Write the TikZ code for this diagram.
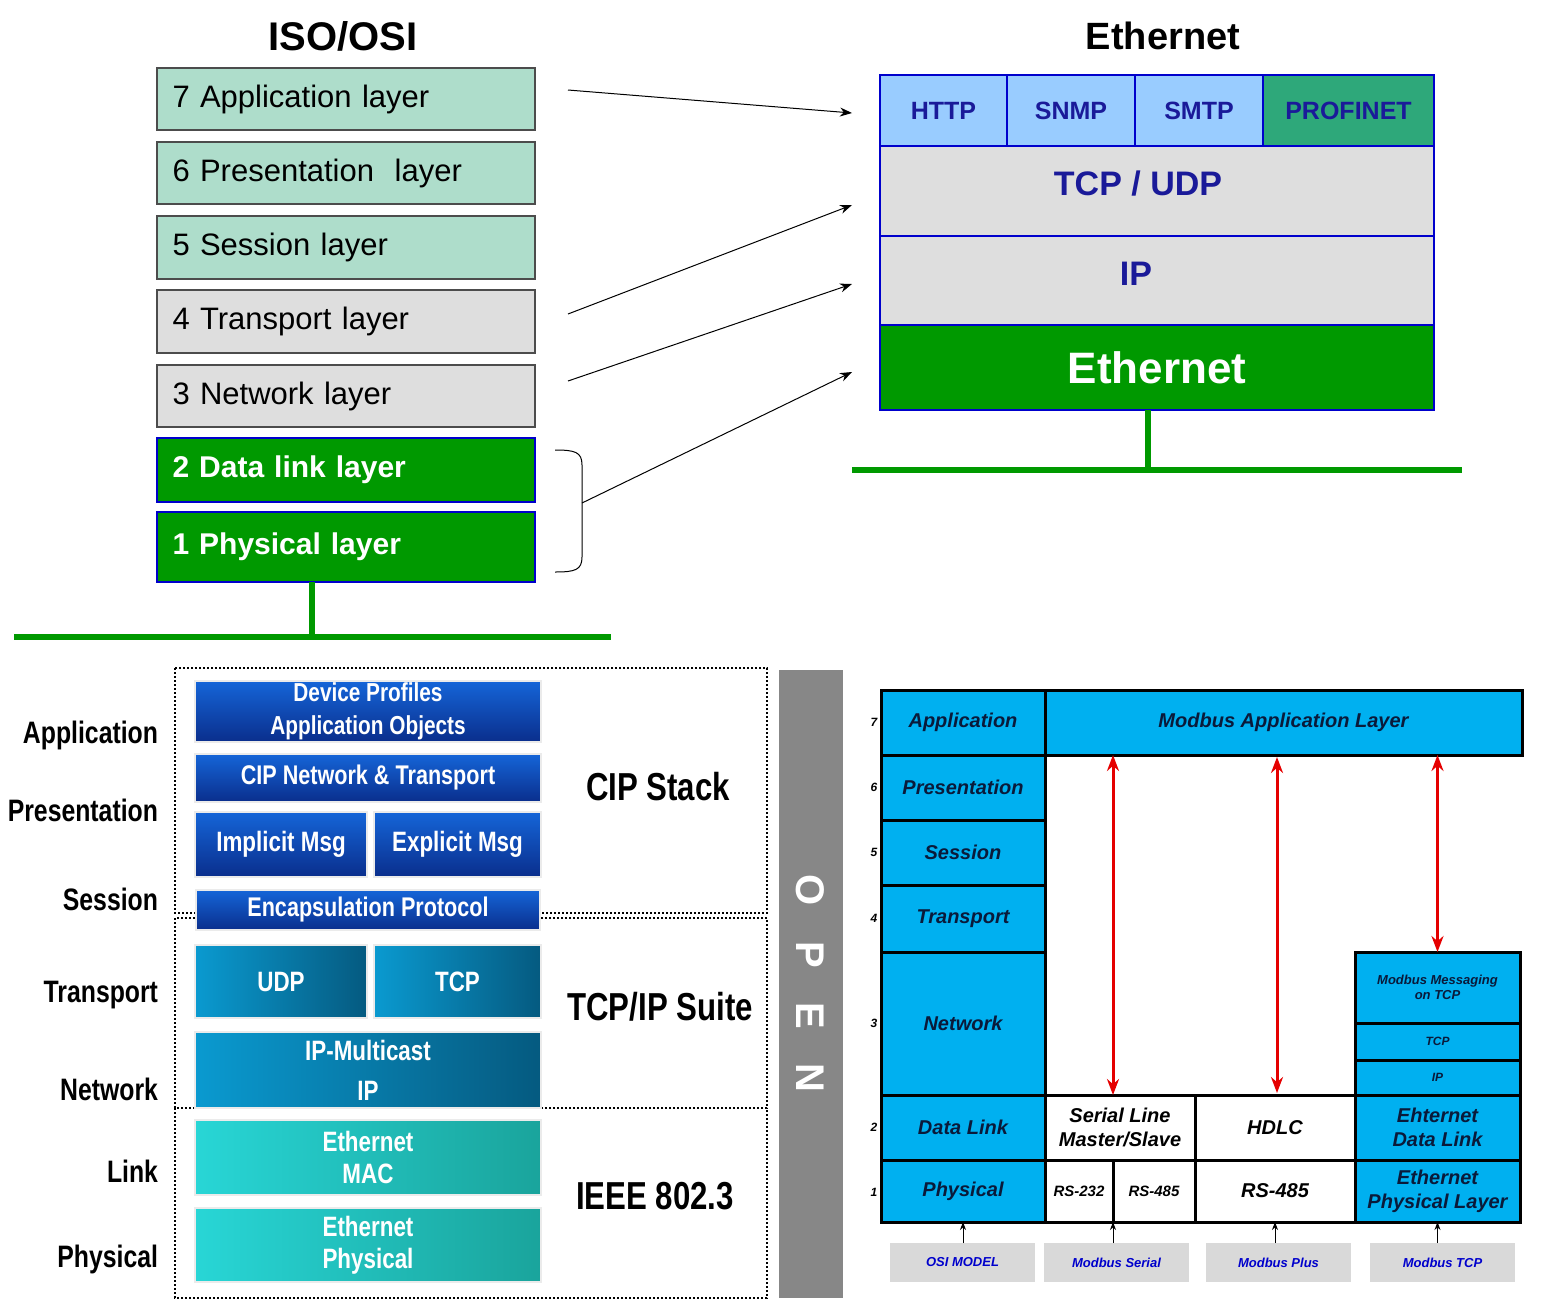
\documentclass[tikz,border=0pt]{standalone}
\usepackage{fontspec}
\setmainfont{Liberation Sans}
\newfontfamily\nar{Liberation Sans}[FakeStretch=0.8]
\usetikzlibrary{arrows.meta}
\definecolor{ositeal}{HTML}{AEDDCB}
\definecolor{osigray}{HTML}{DEDEDE}
\definecolor{egreen}{HTML}{009900}
\definecolor{eblue}{HTML}{99CCFF}
\definecolor{pgreen}{HTML}{2EA87A}
\definecolor{navy}{HTML}{1A1A99}
\definecolor{mbblue}{HTML}{00B0F0}
\definecolor{mbtext}{HTML}{0A1A3A}
\definecolor{ciptop}{HTML}{1565D8}
\definecolor{cipbot}{HTML}{0A2E8C}
\definecolor{cyl}{HTML}{0A9AD0}
\definecolor{cyr}{HTML}{055A80}
\definecolor{tel}{HTML}{28D6D6}
\definecolor{ter}{HTML}{1AA49C}
\newcommand\bx[7]{\node[#6, minimum width={(#4-#2)*0.5pt}, minimum height={(#5-#3)*0.5pt}] (#1) at ({(#2+#4)/2},{(#3+#5)/2}) {#7};}
\begin{document}
\begin{tikzpicture}[x=0.5pt,y=-0.5pt,
  every node/.style={inner sep=0pt, outer sep=0pt, align=center},
  osi/.style={draw=black!70, line width=0.6pt, font=\fontsize{15.5}{17}\selectfont},
  osig/.style={draw=blue!80!black, fill=egreen, line width=0.8pt, text=white, font=\fontsize{15}{17}\selectfont\bfseries},
  eth/.style={draw=blue!80!black, line width=0.8pt, text=navy, font=\bfseries},
  cipb/.style={top color=ciptop, bottom color=cipbot, text=white, font=\nar\bfseries\fontsize{14}{16}\selectfont, draw=black!8, line width=1pt},
  cipc/.style={left color=cyl, right color=cyr, text=white, font=\nar\bfseries\fontsize{14}{16}\selectfont, draw=black!8, line width=1pt},
  cipt/.style={left color=tel, right color=ter, text=white, font=\nar\bfseries\fontsize{14}{16}\selectfont, draw=black!8, line width=1pt},
  lay/.style={anchor=east, font=\nar\bfseries\fontsize{15.5}{17}\selectfont},
  big/.style={font=\nar\bfseries\fontsize{19.5}{21}\selectfont},
  mb/.style={draw=black, line width=1.5pt, fill=mbblue, text=mbtext, font=\bfseries\itshape\fontsize{10}{12}\selectfont},
  mbw/.style={draw=black, line width=1.5pt, fill=white, text=black, font=\bfseries\itshape\fontsize{10}{12}\selectfont},
  mbl/.style={fill=black!15, text=blue!80!black, font=\bfseries\itshape\fontsize{6.5}{8}\selectfont},
  gline/.style={draw=egreen, line width=3pt},
  arr/.style={-{Stealth[length=6pt]}, line width=0.5pt},
  red/.style={draw=red!90!black, line width=1.5pt, {Stealth[length=8pt,width=6pt]}-{Stealth[length=8pt,width=6pt]}},
]
\useasboundingbox (0,0) rectangle (1544,1308);

% ISO/OSI
\node[font=\fontsize{20}{22}\selectfont\bfseries] (tosi) at (343,36) {ISO/OSI};
\bx{o7}{157}{68}{535}{130}{osi,fill=ositeal,text width={(520-173)*0.5pt},align=left}{7 Application layer}
\bx{o6}{157}{142}{535}{204}{osi,fill=ositeal,text width={(520-173)*0.5pt},align=left}{6 Presentation~ layer}
\bx{o5}{157}{216}{535}{279}{osi,fill=ositeal,text width={(520-173)*0.5pt},align=left}{5 Session layer}
\bx{o4}{157}{290}{535}{353}{osi,fill=osigray,text width={(520-173)*0.5pt},align=left}{4 Transport layer}
\bx{o3}{157}{365}{535}{427}{osi,fill=osigray,text width={(520-173)*0.5pt},align=left}{3 Network layer}
\bx{o2}{157}{438}{535}{502}{osig,text width={(520-173)*0.5pt},align=left}{2 Data link layer}
\bx{o1}{157}{512}{535}{582}{osig,text width={(520-173)*0.5pt},align=left}{1 Physical layer}
\coordinate (gv1) at (312,582);
\coordinate (gv2) at (312,637);
\draw[gline] (gv1) -- (gv2);
\draw[gline] (14,637) -- (611,637);
\draw[line width=0.5pt] (555,450) .. controls (575,450) and (582,452) .. (582,465) -- (582,557) .. controls (582,570) and (575,572) .. (555,572);

% Ethernet
\node[font=\fontsize{19}{21}\selectfont\bfseries] (teth) at (1163,36) {Ethernet};
\bx{http}{880}{75}{1007}{146}{eth,fill=eblue,font=\bfseries\fontsize{12.5}{14}\selectfont}{HTTP}
\bx{snmp}{1007}{75}{1135}{146}{eth,fill=eblue,font=\bfseries\fontsize{12.5}{14}\selectfont}{SNMP}
\bx{smtp}{1135}{75}{1263}{146}{eth,fill=eblue,font=\bfseries\fontsize{12.5}{14}\selectfont}{SMTP}
\bx{prof}{1263}{75}{1434}{146}{eth,fill=pgreen,font=\bfseries\fontsize{12.5}{14}\selectfont}{PROFINET}
\bx{tcp}{880}{146}{1434}{236}{eth,fill=osigray}{}
\node[text=navy,font=\bfseries\fontsize{17}{19}\selectfont] (tcpt) at (1138,184) {TCP / UDP};
\bx{ip}{880}{236}{1434}{325}{eth,fill=osigray}{}
\node[text=navy,font=\bfseries\fontsize{17}{19}\selectfont] (ipt) at (1136,274) {IP};
\bx{ethl}{880}{325}{1434}{410}{eth,fill=egreen,text=white,font=\bfseries\fontsize{22}{24}\selectfont}{Ethernet}
\coordinate (ev1) at (1148,410);
\coordinate (ev2) at (1148,470);
\draw[gline] (ev1) -- (ev2);
\draw[gline] (852,470) -- (1462,470);

% mapping arrows
\coordinate (a1s) at (568,90);   \coordinate (a1e) at (852,113);
\coordinate (a2s) at (568,314);  \coordinate (a2e) at (852,205);
\coordinate (a3s) at (568,381);  \coordinate (a3e) at (852,284);
\coordinate (a4s) at (582,503);  \coordinate (a4e) at (852,372);
\draw[arr] (a1s) -- (a1e);
\draw[arr] (a2s) -- (a2e);
\draw[arr] (a3s) -- (a3e);
\draw[arr] (a4s) -- (a4e);

% CIP
\draw[densely dotted, line width=1pt] (175,668) rectangle (767,913);
\draw[densely dotted, line width=1pt] (175,918) rectangle (767,1108);
\draw[densely dotted, line width=1pt] (175,1108) rectangle (767,1298);
\node[lay] (lapp) at (158,735) {Application};
\node[lay] (lpre) at (158,810) {Presentation};
\node[lay] (lses) at (158,899) {Session};
\node[lay] (ltra) at (158,995) {Transport};
\node[lay] (lnet) at (158,1089) {Network};
\node[lay] (llnk) at (158,1171) {Link};
\node[lay] (lphy) at (158,1259) {Physical};
\bx{dp}{195}{681}{541}{742}{cipb,font=\nar\bfseries\fontsize{13}{16.5}\selectfont}{Device Profiles\\Application Objects}
\bx{cnt}{195}{754}{541}{802}{cipb,font=\nar\bfseries\fontsize{13.5}{15}\selectfont}{CIP Network \& Transport}
\bx{imp}{195}{812}{367}{877}{cipb}{Implicit Msg}
\bx{exp}{374}{812}{541}{877}{cipb}{Explicit Msg}
\bx{enc}{196}{890}{540}{930}{cipb,font=\nar\bfseries\fontsize{13.5}{15}\selectfont}{Encapsulation Protocol}
\bx{udp}{195}{945}{367}{1018}{cipc}{UDP}
\bx{ctcp}{374}{945}{541}{1018}{cipc}{TCP}
\bx{cip}{195}{1032}{541}{1108}{cipc,font=\nar\bfseries\fontsize{14}{20}\selectfont}{IP-Multicast\\IP}
\bx{mac}{195}{1120}{541}{1195}{cipt}{Ethernet\\MAC}
\bx{phy}{195}{1208}{541}{1282}{cipt}{Ethernet\\Physical}
\node[big] (cips) at (658,787) {CIP Stack};
\node[big] (tcps) at (660,1007) {TCP/IP Suite};
\node[big] (ieee) at (655,1196) {IEEE 802.3};
\bx{open}{779}{670}{843}{1298}{fill=black!47}{}
\foreach \l/\y in {O/890,P/955,E/1016,N/1078}
  \node[rotate=-90, text=white, font=\bfseries\fontsize{20}{20}\selectfont] (open\l) at (810,\y) {\l};

% Modbus
\bx{mapp}{881}{690}{1045}{755}{mb}{Application}
\bx{mpre}{881}{755}{1045}{820}{mb}{Presentation}
\bx{mses}{881}{820}{1045}{885}{mb}{Session}
\bx{mtra}{881}{885}{1045}{952}{mb}{Transport}
\bx{mnet}{881}{952}{1045}{1095}{mb}{Network}
\bx{mdl}{881}{1095}{1045}{1160}{mb}{Data Link}
\bx{mphy}{881}{1160}{1045}{1222}{mb}{Physical}
\bx{mal}{1045}{690}{1522}{755}{mb}{Modbus Application Layer}
\bx{mmsg}{1355}{952}{1520}{1023}{mb,font=\bfseries\itshape\fontsize{6.5}{7.5}\selectfont}{Modbus Messaging\\on TCP}
\bx{mtcp}{1355}{1023}{1520}{1060}{mb,font=\bfseries\itshape\fontsize{6}{7}\selectfont}{TCP}
\bx{mip}{1355}{1060}{1520}{1095}{mb,font=\bfseries\itshape\fontsize{6}{7}\selectfont}{IP}
\bx{medl}{1355}{1095}{1520}{1160}{mb}{Ehternet\\Data Link}
\bx{meph}{1355}{1160}{1520}{1222}{mb}{Ethernet\\Physical Layer}
\bx{msl}{1045}{1095}{1195}{1160}{mbw}{Serial Line\\Master/Slave}
\bx{hdlc}{1195}{1095}{1355}{1160}{mbw}{HDLC}
\bx{r232}{1045}{1160}{1113}{1222}{mbw,font=\bfseries\itshape\fontsize{7.5}{9}\selectfont}{RS-232}
\bx{r485a}{1113}{1160}{1195}{1222}{mbw,font=\bfseries\itshape\fontsize{7.5}{9}\selectfont}{RS-485}
\bx{r485b}{1195}{1160}{1355}{1222}{mbw}{RS-485}
\foreach \n/\y in {7/722,6/787,5/852,4/918,3/1023,2/1127,1/1192}
  \node[font=\bfseries\itshape\fontsize{6}{7}\selectfont] (num\n) at (874,\y) {\n};
\draw[red] (mal.south -| r485a.west) -- (msl.north -| r485a.west);
\draw[red] (1277,757) -- (1277,1093);
\draw[red] (mal.south -| mmsg.center) -- (mmsg.north);
\bx{bosi}{890}{1243}{1035}{1282}{mbl}{OSI MODEL}
\bx{bser}{1044}{1243}{1189}{1282}{mbl}{Modbus Serial}
\bx{bplu}{1206}{1243}{1351}{1282}{mbl}{Modbus Plus}
\bx{btcp}{1370}{1243}{1515}{1282}{mbl}{Modbus TCP}
\draw[-{Stealth[length=4pt]}, line width=0.5pt] (bosi.north -| mphy.center) -- (mphy.south -| mphy.center);
\draw[-{Stealth[length=4pt]}, line width=0.5pt] (bser.north -| r485a.west) -- (r485a.south west);
\draw[-{Stealth[length=4pt]}, line width=0.5pt] (bplu.north -| r485b.center) -- (r485b.south);
\draw[-{Stealth[length=4pt]}, line width=0.5pt] (btcp.north -| meph.center) -- (meph.south);
\end{tikzpicture}
\end{document}
